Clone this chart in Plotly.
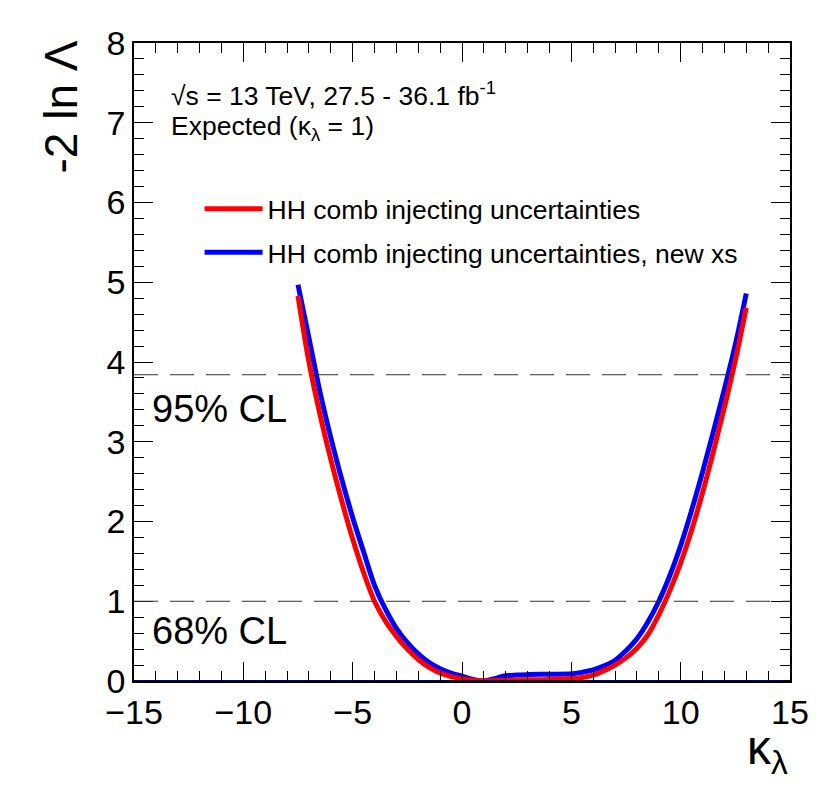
import plotly.graph_objects as go

# kappa_lambda scan points and -2 ln Lambda values
kl_red = [-7.5, -7.0, -6.5, -6.0, -5.5, -5.0, -4.5, -4.0, -3.5, -3.0, -2.5, -2.0, -1.5, -1.0, -0.5,
          0.0, 0.5, 1.0, 1.5, 2.0, 3.0, 4.0, 5.0, 5.5, 6.0, 6.5, 7.0, 7.5, 8.0, 8.5, 9.0, 9.5,
          10.0, 10.5, 11.0, 11.5, 12.0, 12.5, 13.0]
nll_red = [4.83, 4.0, 3.35, 2.78, 2.26, 1.78, 1.36, 1.0, 0.75, 0.56, 0.40, 0.27, 0.17, 0.10, 0.055,
           0.03, 0.01, 0.0, 0.005, 0.01, 0.015, 0.02, 0.03, 0.045, 0.075, 0.13, 0.2, 0.29, 0.41, 0.58, 0.83, 1.13,
           1.48, 1.89, 2.36, 2.88, 3.43, 4.02, 4.68]

kl_blue = [-7.5, -7.0, -6.5, -6.0, -5.5, -5.0, -4.5, -4.0, -3.5, -3.0, -2.5, -2.0, -1.5, -1.0, -0.5,
           0.0, 0.5, 1.0, 1.5, 2.0, 2.5, 3.0, 4.0, 5.0, 5.5, 6.0, 6.5, 7.0, 7.5, 8.0, 8.5, 9.0, 9.5,
           10.0, 10.5, 11.0, 11.5, 12.0, 12.5, 13.0]
nll_blue = [4.97, 4.30, 3.63, 3.05, 2.53, 2.05, 1.62, 1.20, 0.90, 0.66, 0.48, 0.34, 0.23, 0.155, 0.10,
            0.06, 0.02, 0.0, 0.03, 0.065, 0.075, 0.08, 0.085, 0.09, 0.11, 0.14, 0.19, 0.26, 0.38, 0.53, 0.74, 1.0, 1.32,
            1.7, 2.14, 2.62, 3.13, 3.66, 4.22, 4.86]

cl_levels = [3.84, 1.0]
cl_labels = ["95% CL", "68% CL"]
cl_label_y = [3.41, 0.63]

font = "Liberation Sans, Arial, sans-serif"

fig = go.Figure()
fig.add_trace(go.Scatter(x=kl_blue, y=nll_blue, mode="lines", line=dict(color="#0000ff", width=5, shape="spline"),
                         name="HH comb injecting uncertainties, new xs", legendgroup="b", legendrank=2))
fig.add_trace(go.Scatter(x=kl_red, y=nll_red, mode="lines", line=dict(color="#ff0000", width=5, shape="spline"),
                         name="HH comb injecting uncertainties", legendgroup="r", legendrank=1))

for lvl, lab, ly in zip(cl_levels, cl_labels, cl_label_y):
    fig.add_shape(type="line", xref="x", yref="y", x0=-15, x1=15, y0=lvl, y1=lvl,
                  line=dict(color="#333333", width=1.2, dash="24px,12px"))
    fig.add_annotation(x=-14.25, y=ly, xref="x", yref="y", text=lab, showarrow=False,
                       xanchor="left", yanchor="middle",
                       font=dict(size=38, color="black", family=font))

# zero line along the bottom
fig.add_shape(type="line", xref="x", yref="y", x0=-15, x1=15, y0=0, y1=0, line=dict(color="#000080", width=2))

# text positions given as paper fractions of the 655.5 x 638 px frame
fig.add_annotation(x=(167 - 132.5) / 655.5, y=(679 - 92) / 638, xref="paper", yref="paper", showarrow=False,
                   xanchor="left", yanchor="middle", text="√s = 13 TeV, 27.5 - 36.1 fb<sup>-1</sup>",
                   font=dict(size=26.5, color="black", family=font))
fig.add_annotation(x=(167 - 132.5) / 655.5, y=(679 - 126) / 638, xref="paper", yref="paper", showarrow=False,
                   xanchor="left", yanchor="middle", text="Expected (κ<sub>λ</sub> = 1)",
                   font=dict(size=26.5, color="black", family=font))
fig.add_annotation(x=(60 - 132.5) / 655.5, y=(679 - 105) / 638, xref="paper", yref="paper", showarrow=False,
                   textangle=-90, xanchor="center", yanchor="middle",
                   text="-2 ln Λ", font=dict(size=46, color="black", family=font))
fig.add_annotation(x=1.0, y=-(749 - 679) / 638, xref="paper", yref="paper", showarrow=False,
                   xanchor="right", yanchor="middle",
                   text="κ<sub>λ</sub>", font=dict(size=48, color="black", family=font))

axis_common = dict(showgrid=False, zeroline=False, showline=True, linecolor="black", linewidth=1.5,
                   mirror="allticks", ticks="inside", ticklen=19, tickcolor="black", tickwidth=1.2,
                   tickfont=dict(size=34, color="black", family=font))
fig.update_xaxes(range=[-15, 15], dtick=5, tick0=0,
                 minor=dict(dtick=1, ticks="inside", ticklen=10, tickcolor="black", tickwidth=1.2),
                 **axis_common)
fig.update_yaxes(range=[0, 8], dtick=1,
                 minor=dict(dtick=0.2, ticks="inside", ticklen=10, tickcolor="black", tickwidth=1.2),
                 **axis_common)

fig.update_layout(
    width=830, height=809,
    margin=dict(l=126, r=48, t=35, b=136),
    plot_bgcolor="white", paper_bgcolor="white",
    font=dict(family=font, color="black"),
    showlegend=True,
    legend=dict(x=0.1, y=(679 - 183) / 638, xanchor="left", yanchor="top", bgcolor="rgba(0,0,0,0)",
                font=dict(size=26.5, color="black", family=font), tracegroupgap=6, traceorder="grouped",
                itemwidth=58),
)

fig.write_html("out.html")
